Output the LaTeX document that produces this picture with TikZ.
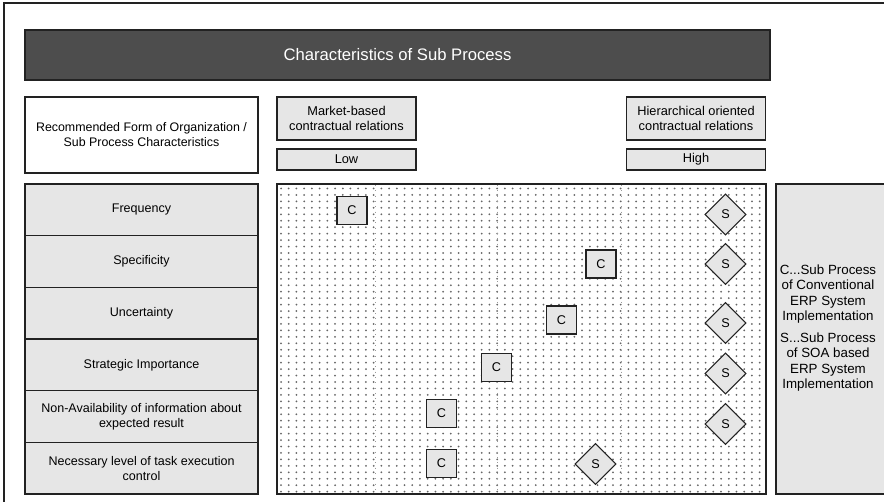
\documentclass[tikz,border=0pt]{standalone}
\usepackage{fontspec}
\setmainfont{Liberation Sans}
\usetikzlibrary{shapes.geometric}
\definecolor{boxgray}{HTML}{E6E6E6}
\definecolor{titlegray}{HTML}{4D4D4D}
\definecolor{linegray}{HTML}{222222}
\tikzset{
  frameline/.style={draw=linegray, line width=0.8pt},
  graybox/.style={frameline, fill=boxgray, inner sep=0pt, align=center, font=\fontsize{9.4}{11.3}\selectfont},
  whitebox/.style={frameline, fill=white, inner sep=0pt, align=center, font=\fontsize{9.3}{11.3}\selectfont},
  rowbox/.style={graybox, minimum width=174.75pt, minimum height=38.75pt},
  cbox/.style={frameline, fill=boxgray, inner sep=0pt, minimum width=22.5pt, minimum height=21pt, font=\fontsize{9.5}{10}\selectfont},
  sdiam/.style={frameline, fill=boxgray, diamond, inner sep=0pt, minimum width=30.75pt, minimum height=30.75pt, font=\fontsize{9.5}{10}\selectfont},
  dotdot/.style={fill=black!60},
  divider/.style={draw=black!40, line width=0.4pt, dash pattern=on 0.8pt off 3.2pt}
}
\begin{document}
\begin{tikzpicture}[x=0.75pt,y=-0.75pt]
\useasboundingbox (0,0) rectangle (884,502);
% outer frame
\draw[frameline] (4,502) -- (4,3) -- (884,3);
% title
\node[frameline, fill=titlegray, text=white, minimum width=558.75pt, minimum height=37.5pt, inner sep=0pt, font=\fontsize{12.5}{14}\selectfont] (title) at (397.5,55) {Characteristics of Sub Process};
% header boxes
\node[whitebox, minimum width=174.75pt, minimum height=57pt] (rec) at (141.5,135) {Recommended Form of Organization /\\Sub Process Characteristics};
\node[graybox, minimum width=104.25pt, minimum height=32.25pt, font=\fontsize{9.6}{11.8}\selectfont] (market) at (346.5,118.5) {Market-based\\contractual relations};
\node[graybox, minimum width=104.25pt, minimum height=15.75pt, font=\fontsize{9.6}{11.8}\selectfont] (low) at (346.5,159.5) {Low};
\node[graybox, minimum width=104.25pt, minimum height=32.25pt, font=\fontsize{9.6}{11.8}\selectfont] (hier) at (696,118.5) {Hierarchical oriented\\contractual relations};
\node[graybox, minimum width=104.25pt, minimum height=15.75pt, font=\fontsize{9.6}{11.8}\selectfont] (high) at (696,159.5) {High};
% rows
\node[rowbox] (r1) at (141.5,209.83) {Frequency};
\node[rowbox] (r2) at (141.5,261.5) {Specificity};
\node[rowbox] (r3) at (141.5,313.17) {Uncertainty};
\node[rowbox] (r4) at (141.5,364.83) {Strategic Importance};
\node[rowbox] (r5) at (141.5,416.5) {Non-Availability of information about\\expected result};
\node[rowbox] (r6) at (141.5,468.17) {Necessary level of task execution\\control};
% dotted area
\node[frameline, fill=white, minimum width=366.75pt, minimum height=232.5pt, inner sep=0pt] (grid) at (521.5,339) {};
\begin{scope}
\clip (278,185) rectangle (765,493);
\foreach \i in {0,...,62}{
  \foreach \j in {0,...,47}{
    \fill[dotdot] (281+7.72*\i,188.5+6.45*\j) circle[radius=0.75pt];
  }
}
\foreach \xx in {375,497,621}{
  \draw[divider] (\xx,185) -- (\xx,493);
}
\end{scope}
\draw[frameline] (grid.north west) rectangle (grid.south east);
% legend
\fill[boxgray] (776,184) rectangle (890,494);
\draw[frameline] (890,184) -- (776,184) -- (776,494) -- (890,494);
\node[align=center, inner sep=0pt, font=\fontsize{10}{11.5}\selectfont] (legend) at (828,328) {C...Sub Process\\of Conventional\\ERP System\\Implementation\\[5pt]S...Sub Process\\of SOA based\\ERP System\\Implementation};
% C squares
\node[cbox] (c1) at (352,210.5) {C};
\node[cbox] (c2) at (601,264) {C};
\node[cbox] (c3) at (561.5,320) {C};
\node[cbox] (c4) at (496.5,367.5) {C};
\node[cbox] (c5) at (441.5,413.5) {C};
\node[cbox] (c6) at (441.5,463.5) {C};
% S diamonds
\node[sdiam] (s1) at (725.5,214.5) {S};
\node[sdiam] (s2) at (725.5,264) {S};
\node[sdiam] (s3) at (725.5,323) {S};
\node[sdiam] (s4) at (725.5,373.5) {S};
\node[sdiam] (s5) at (725.5,424) {S};
\node[sdiam] (s6) at (595.5,464) {S};
\end{tikzpicture}
\end{document}
